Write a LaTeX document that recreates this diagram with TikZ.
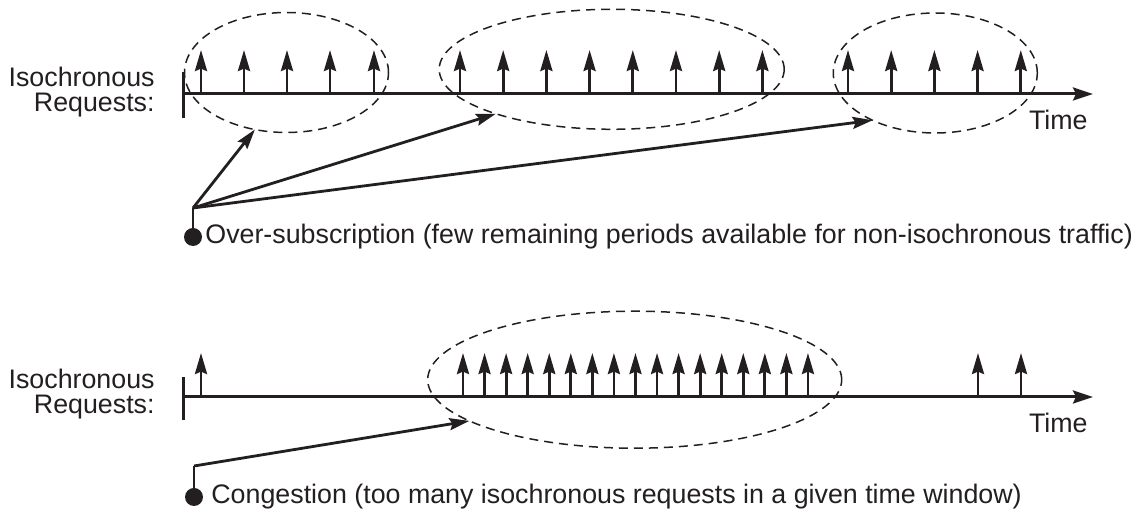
\documentclass[tikz,border=0pt]{standalone}
\usepackage{fontspec}
\setmainfont{Liberation Sans}
\usetikzlibrary{arrows.meta,shapes.geometric}

\definecolor{ink}{RGB}{35,31,32}

\tikzset{
  axis/.style={line width=1.5pt, draw=ink, -{Stealth[length=10pt,width=6.5pt,inset=1.5pt]}},
  tick/.style={line width=1.5pt, draw=ink},
  req/.style={line width=1.4pt, draw=ink, -{Stealth[length=10.5pt,width=6pt,inset=1.2pt]}},
  group/.style={draw=ink, dash pattern=on 4.5pt off 3pt, line width=0.75pt, ellipse, inner sep=0pt, outer sep=0pt},
  pointer/.style={line width=1.4pt, draw=ink, -{Stealth[length=10pt,width=6pt,inset=1.5pt]}},
  dot/.style={circle, fill=ink, inner sep=0pt, minimum size=9pt},
  lbl/.style={text=ink, inner sep=0pt, font=\fontsize{13.4pt}{15pt}\selectfont},
}

\begin{document}
\begin{tikzpicture}[x=0.5pt,y=-0.5pt]
\useasboundingbox (0,0) rectangle (1148,512);

% Top timeline
\coordinate (o1) at (183,94);
\coordinate (e1) at (1093,94);
\draw[tick] (183,72) -- (183,118);
\draw[axis] (o1) -- (e1);
\node[lbl, anchor=base east] (iso1) at (155,87) {Isochronous};
\node[lbl, anchor=base east] (reqs1) at (155,112) {Requests:};
\node[lbl, anchor=base east] (time1) at (1088,130) {Time};

% Requests, three busy periods
\foreach \x in {201,244,287,330,374}
  \draw[req] (\x,94) -- ++(0,-44);
\foreach \i in {0,...,7}
  \draw[req] ({460+43.2*\i},94) -- ++(0,-44);
\foreach \i in {0,...,4}
  \draw[req] ({848+43.2*\i},94) -- ++(0,-44);

\node[group, minimum width=102pt, minimum height=60pt] (g1) at (286.5,72.5) {};
\node[group, minimum width=172.5pt, minimum height=60pt] (g2) at (611.7,69.3) {};
\node[group, minimum width=102pt, minimum height=60pt] (g3) at (935.3,73) {};

% Over-subscription pointer
\coordinate (b1) at (193,208);
\node[dot] (d1) at (193,237) {};
\node[lbl, anchor=west] (over) at (205,237) {Over-subscription (few remaining periods available for non-isochronous traffic)};
\draw[tick, line width=1.4pt] (d1) -- (b1);
\draw[pointer] (b1) -- (g1.241.7);
\draw[pointer] (b1) -- (g2.201);
\draw[pointer] (b1) -- (g3.217.4);

% Bottom timeline
\coordinate (o2) at (183,397);
\coordinate (e2) at (1093,397);
\draw[tick] (183,377) -- (183,420);
\draw[axis] (o2) -- (e2);
\node[lbl, anchor=base east] (iso2) at (155,389) {Isochronous};
\node[lbl, anchor=base east] (reqs2) at (155,414) {Requests:};
\node[lbl, anchor=base east] (time2) at (1088,433) {Time};

% Requests, one burst
\foreach \x in {201,978,1021}
  \draw[req] (\x,397) -- ++(0,-44);
\foreach \i in {0,...,16}
  \draw[req] ({463+21.56*\i},397) -- ++(0,-44);

\node[group, minimum width=207pt, minimum height=68.5pt] (g4) at (634.7,379.7) {};

% Congestion pointer
\coordinate (b2) at (194,466);
\node[dot] (d2) at (194,497) {};
\node[lbl, anchor=west] (cong) at (211,497) {Congestion (too many isochronous requests in a given time window)};
\draw[tick, line width=1.4pt] (d2) -- (b2);
\draw[pointer] (b2) -- (g4.194.6);

\end{tikzpicture}
\end{document}
